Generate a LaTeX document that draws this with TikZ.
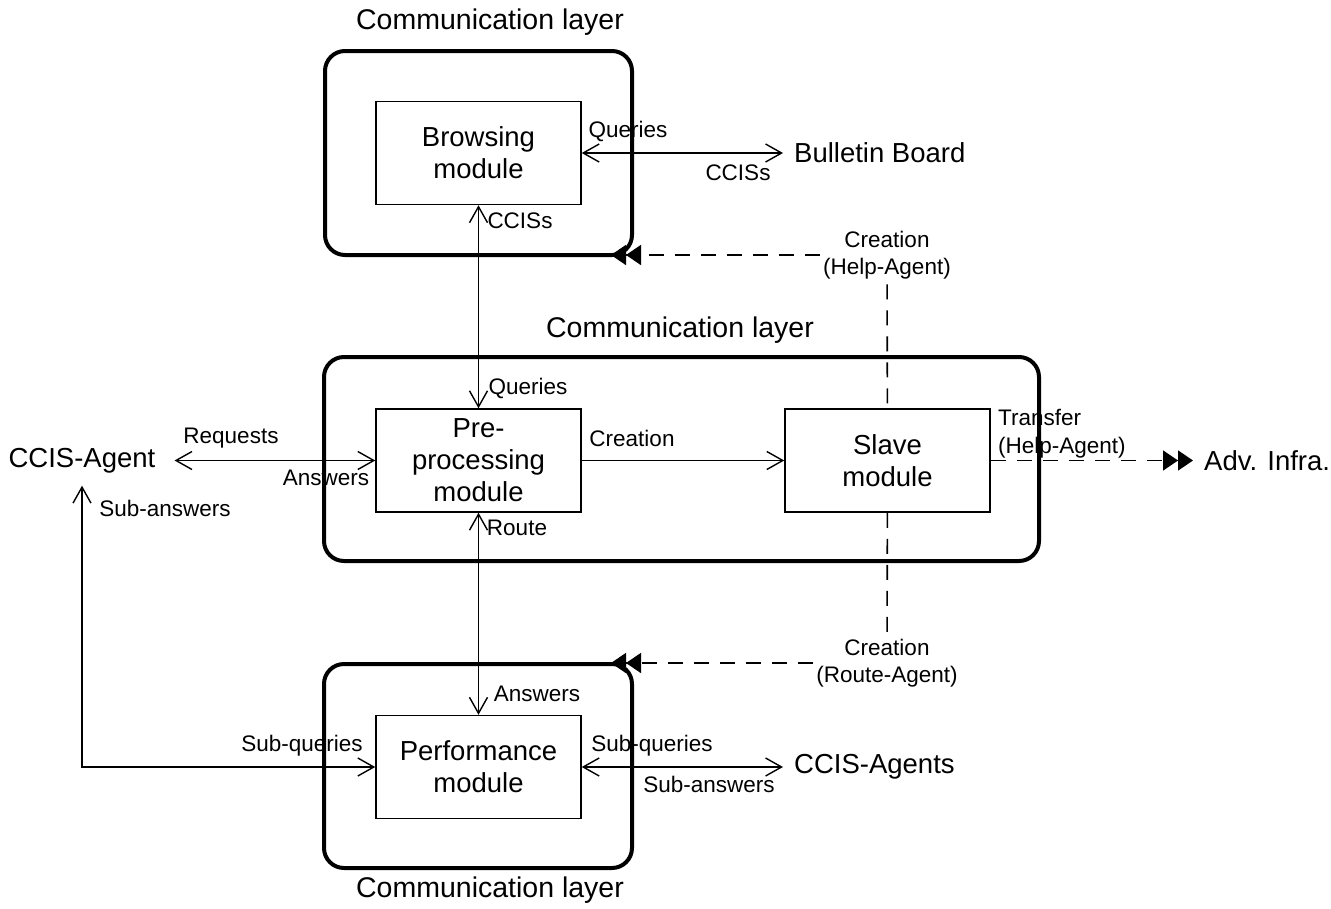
\documentclass[tikz,border=0pt]{standalone}
\usepackage{fontspec}
\setmainfont{Liberation Sans}
\usetikzlibrary{arrows.meta}
\newcommand\bigfnt{\fontsize{27.5}{32}\selectfont}
\newcommand\ttlfnt{\fontsize{28.5}{32}\selectfont}
\newcommand\smlfnt{\fontsize{22.5}{27.5}\selectfont}
\begin{document}
\begin{tikzpicture}[x=1pt,y=-1pt,
  layer/.style={draw,line width=4pt,rounded corners=20pt,inner sep=0pt},
  module/.style={draw,line width=1.5pt,minimum width=205pt,minimum height=103pt,
    inner sep=0pt,align=center,font=\bigfnt},
  ext/.style={font=\bigfnt,anchor=west,inner xsep=11pt,inner ysep=4pt},
  lbl/.style={font=\smlfnt,inner sep=0pt},
  note/.style={font=\smlfnt,align=center,fill=white,inner xsep=3pt,inner ysep=5pt},
  barb/.tip={Straight Barb[length=16pt,width=18pt,line width=1.4pt]},
  conn/.style={line width=1.4pt},
  both/.style={conn,barb-barb},
  single/.style={conn,-barb},
  dashline/.style={line width=1.6pt,dash pattern=on 15pt off 11pt},
  creation/.style={dashline,-{Triangle[length=15pt,width=20pt]Triangle[length=15pt,width=20pt]}}]
\useasboundingbox (0,0) rectangle (1331,908);

% communication layers
\node[layer,minimum width=307pt,minimum height=204pt] (L1) at (478.5,153) {};
\node[layer,minimum width=715pt,minimum height=204pt] (L2) at (681.5,459) {};
\node[layer,minimum width=308pt,minimum height=204pt] (L3) at (478,766) {};
\node[font=\ttlfnt] (t1) at (490,22) {Communication layer};
\node[font=\ttlfnt] (t2) at (680,330) {Communication layer};
\node[font=\ttlfnt] (t3) at (490,890) {Communication layer};

% modules
\node[module] (browse) at (478.5,153) {Browsing\\module};
\node[module] (pre) at (478.5,460.5) {Pre-\\processing\\module};
\node[module] (slave) at (887.5,460.5) {Slave\\module};
\node[module] (perf) at (478.5,767) {Performance\\module};

% external parties
\node[ext] (bb) at (783,153) {Bulletin Board};
\node[ext] (agents) at (783,767) {CCIS-Agents};
\node[ext] (adv) at (1193,460.5) {Adv. Infra.};
\node[font=\bigfnt,inner xsep=19pt,minimum height=50pt] (agent) at (82,460.5) {CCIS-Agent};

% creation notes
\node[note] (cr1) at (887,255) {Creation\\(Help-Agent)};
\node[note] (cr2) at (887,663) {Creation\\(Route-Agent)};
\coordinate (tipA) at (611,255);
\coordinate (tipB) at (611,663);

% message flows
\draw[both] (browse) -- (bb);
\draw[both] (browse) -- (pre);
\draw[both] (pre) -- (perf);
\draw[both] (agent) -- (pre);
\draw[single] (pre) -- (slave);
\draw[both] (perf) -- (agents);
\draw[both] (agent.south) |- (perf.west);

% agent creation and transfer
\draw[creation] (cr1) -- (tipA);
\draw[creation] (cr2) -- (tipB);
\draw[dashline] (cr1) -- (slave);
\draw[dashline] (slave) -- (cr2);
\draw[creation] (slave) -- (adv);

% flow labels
\node[lbl] (q1) at (628,131) {Queries};
\node[lbl] (c1) at (738,173) {CCISs};
\node[lbl] (c2) at (520,221) {CCISs};
\node[lbl] (q2) at (528,388) {Queries};
\node[lbl] (r1) at (517,528) {Route};
\node[lbl] (a1) at (537,694) {Answers};
\node[lbl] (rq) at (231,438) {Requests};
\node[lbl] (a2) at (326,478) {Answers};
\node[lbl] (sa1) at (165,508) {Sub-answers};
\node[lbl] (sq1) at (302,746) {Sub-queries};
\node[lbl] (sq2) at (652,746) {Sub-queries};
\node[lbl] (sa2) at (709,784) {Sub-answers};
\node[lbl] (cr3) at (632,438) {Creation};
\node[lbl,anchor=west,align=left] (tr) at (998,433.5) {Transfer\\(Help-Agent)};
\end{tikzpicture}
\end{document}
